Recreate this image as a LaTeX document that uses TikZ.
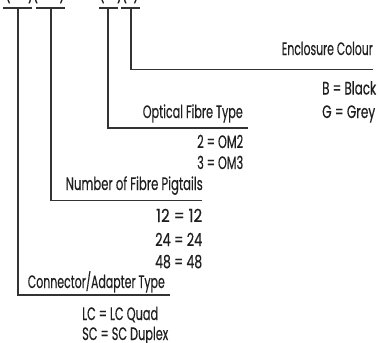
\documentclass[tikz,border=0pt]{standalone}
\usepackage{graphicx}
\usepackage{fontspec}
\setmainfont{Poppins}[FakeStretch=0.6,FakeBold=0.3]
\newcommand\fitw[2]{\resizebox{#1pt}{\height}{#2}}
\begin{document}
\begin{tikzpicture}[x=1pt,y=-1pt,
  lbl/.style={inner sep=0pt,font=\fontsize{18}{20}\selectfont,text=black!88},
  lr/.style={lbl,anchor=base east},
  ll/.style={lbl,anchor=base west},
  par/.style={lbl,anchor=south},
  ln/.style={line width=1.2pt,draw=black!80}]
\useasboundingbox (0,0) rectangle (378,343);
% top code row (cut off)
\node[par] (p1) at (8,3.5) {(};
\node[par] (p2) at (33,3.5) {)(};
\node[par] (p3) at (62,3.5) {)};
\node[lbl] (p4) at (78,0.5) {-};
\node[par] (p5) at (102,3.5) {(};
\node[par] (p6) at (122,3.5) {)(};
\node[par] (p7) at (136,3.5) {)};
% bars
\coordinate (b1l) at (3,8); \coordinate (b1r) at (32,8);
\coordinate (b2l) at (36,8); \coordinate (b2r) at (65,8);
\coordinate (b3l) at (99,8); \coordinate (b3r) at (118,8);
\coordinate (b4l) at (121,8); \coordinate (b4r) at (140,8);
\coordinate (s1) at (18,8); \coordinate (s2) at (51,8);
\coordinate (s3) at (108,8); \coordinate (s4) at (131,8);
\coordinate (e1) at (170,295); \coordinate (e2) at (202,200.5);
\coordinate (e3) at (248,128); \coordinate (e4) at (373,69.5);
\draw[ln] (b1l) -- (b1r); \draw[ln] (b2l) -- (b2r);
\draw[ln] (b3l) -- (b3r); \draw[ln] (b4l) -- (b4r);
\draw[ln] (s1) |- (e1);
\draw[ln] (s2) |- (e2);
\draw[ln] (s3) |- (e3);
\draw[ln] (s4) |- (e4);
% labels
\node[lr] (t4) at (373,55) {\fitw{91}{Enclosure Colour}};
\node[ll] (v41) at (322,94.5) {\fitw{54}{B = Black}};
\node[ll] (v42) at (322,118) {\fitw{53}{G = Grey}};
\node[lr] (t3) at (243,118) {\fitw{100}{Optical Fibre Type}};
\node[ll] (v31) at (197,148) {\fitw{46}{2 = OM2}};
\node[ll] (v32) at (197,169) {\fitw{46}{3 = OM3}};
\node[lr] (t2) at (203,190) {\fitw{137}{Number of Fibre Pigtails}};
\node[ll] (v21) at (156,222) {\fitw{46}{12 = 12}};
\node[ll] (v22) at (155,246) {\fitw{47}{24 = 24}};
\node[ll] (v23) at (155,268) {\fitw{47}{48 = 48}};
\node[lr] (t1) at (165,288) {\fitw{137}{Connector/Adapter Type}};
\node[ll] (v11) at (82,320) {\fitw{76}{LC = LC Quad}};
\node[ll] (v12) at (82,340) {\fitw{86}{SC = SC Duplex}};
\end{tikzpicture}
\end{document}
